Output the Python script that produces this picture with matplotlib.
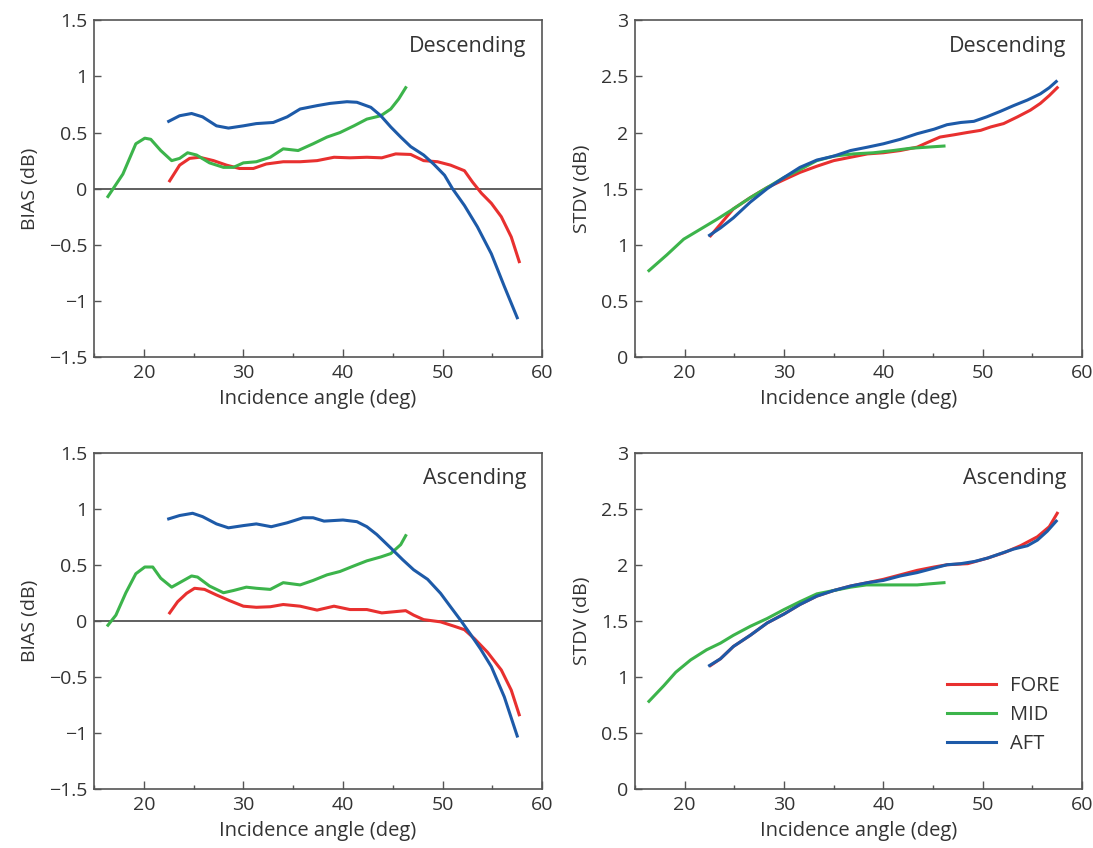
import matplotlib.pyplot as plt
from matplotlib.ticker import MultipleLocator, FuncFormatter

plt.rcParams['font.family'] = ['Open Sans', 'DejaVu Sans']

# Descending pass, BIAS (dB)
d_bias_fore_x = [22.6, 23.6, 24.6, 25.6, 27.0, 28.3, 29.6, 31.0, 32.3, 34.0, 35.7, 37.4, 39.1, 40.7,
                 42.4, 43.9, 45.3, 46.8, 48.1, 49.5, 50.8, 52.2, 53.0, 53.9, 54.9, 55.9, 56.9, 57.7]
d_bias_fore_y = [0.07, 0.21, 0.27, 0.28, 0.25, 0.21, 0.18, 0.18, 0.22, 0.24, 0.24, 0.25, 0.28, 0.275,
                 0.28, 0.275, 0.31, 0.305, 0.25, 0.24, 0.21, 0.16, 0.06, -0.04, -0.13, -0.25, -0.43, -0.65]
d_bias_mid_x = [16.4, 17.9, 19.2, 20.1, 20.7, 21.7, 22.8, 23.6, 24.4, 25.3, 26.6, 28.0, 29.0, 30.0,
                31.3, 32.7, 34.0, 35.5, 37.0, 38.4, 39.7, 41.1, 42.4, 43.8, 44.8, 45.6, 46.3]
d_bias_mid_y = [-0.07, 0.13, 0.40, 0.45, 0.44, 0.34, 0.25, 0.27, 0.32, 0.30, 0.23, 0.19, 0.19, 0.23,
                0.24, 0.28, 0.355, 0.34, 0.40, 0.46, 0.50, 0.56, 0.62, 0.65, 0.71, 0.80, 0.90]
d_bias_aft_x = [22.5, 23.6, 24.8, 25.9, 27.3, 28.5, 30.0, 31.3, 33.0, 34.4, 35.7, 37.4, 38.7, 40.4,
                41.4, 42.8, 43.8, 44.8, 45.8, 46.8, 48.1, 49.1, 50.2, 51.0, 52.2, 53.5, 54.9, 56.2, 57.5]
d_bias_aft_y = [0.60, 0.65, 0.67, 0.64, 0.56, 0.54, 0.56, 0.58, 0.59, 0.64, 0.71, 0.74, 0.76, 0.775,
                0.77, 0.725, 0.65, 0.55, 0.46, 0.375, 0.30, 0.22, 0.12, 0.0, -0.15, -0.34, -0.58, -0.87, -1.15]

# Descending pass, STDV (dB)
d_stdv_fore_x = [22.6, 24.9, 26.6, 28.3, 30.0, 31.6, 33.3, 35.0, 36.7, 38.4, 40.0, 41.7, 43.4, 44.4,
                 45.7, 47.1, 48.4, 49.8, 50.8, 52.1, 53.5, 54.8, 55.8, 56.7, 57.5]
d_stdv_fore_y = [1.08, 1.32, 1.42, 1.51, 1.58, 1.645, 1.70, 1.75, 1.78, 1.81, 1.82, 1.84, 1.87, 1.91,
                 1.96, 1.98, 2.00, 2.02, 2.05, 2.08, 2.14, 2.20, 2.26, 2.33, 2.40]
d_stdv_mid_x = [16.4, 18.2, 19.9, 21.6, 23.3, 24.9, 26.6, 28.3, 30.0, 31.6, 33.3, 35.0, 37.0, 39.0,
                41.0, 42.7, 44.4, 46.1]
d_stdv_mid_y = [0.77, 0.91, 1.05, 1.14, 1.23, 1.32, 1.42, 1.51, 1.60, 1.67, 1.75, 1.79, 1.81, 1.82,
                1.84, 1.86, 1.87, 1.88]
d_stdv_aft_x = [22.5, 23.6, 24.9, 26.6, 28.3, 30.0, 31.6, 33.3, 35.0, 36.7, 38.4, 40.0, 41.7, 43.4,
                45.1, 46.4, 47.8, 49.1, 50.4, 51.8, 53.1, 54.5, 55.8, 56.7, 57.4]
d_stdv_aft_y = [1.085, 1.15, 1.24, 1.38, 1.50, 1.60, 1.69, 1.755, 1.79, 1.84, 1.87, 1.90, 1.94, 1.99,
                2.03, 2.07, 2.09, 2.10, 2.14, 2.19, 2.24, 2.29, 2.345, 2.40, 2.455]

# Ascending pass, BIAS (dB)
a_bias_fore_x = [22.6, 23.4, 24.3, 25.1, 26.1, 27.3, 28.6, 30.0, 31.3, 32.7, 34.0, 35.7, 37.4, 39.1,
                 40.7, 42.4, 43.9, 45.1, 46.3, 47.1, 48.1, 49.8, 51.2, 52.2, 53.2, 54.5, 55.9, 56.9, 57.7]
a_bias_fore_y = [0.07, 0.17, 0.245, 0.29, 0.28, 0.23, 0.18, 0.13, 0.12, 0.125, 0.145, 0.13, 0.095, 0.13,
                 0.10, 0.10, 0.07, 0.08, 0.09, 0.05, 0.01, -0.01, -0.05, -0.08, -0.16, -0.28, -0.44, -0.62, -0.84]
a_bias_mid_x = [16.4, 17.2, 18.2, 19.2, 20.1, 20.9, 21.7, 22.8, 23.8, 24.8, 25.4, 26.6, 28.0, 29.0,
                30.3, 31.3, 32.7, 34.0, 35.7, 37.0, 38.4, 39.7, 41.1, 42.4, 43.8, 44.8, 45.8, 46.3]
a_bias_mid_y = [-0.04, 0.05, 0.25, 0.42, 0.48, 0.48, 0.38, 0.30, 0.35, 0.40, 0.39, 0.31, 0.25, 0.27,
                0.30, 0.29, 0.28, 0.34, 0.32, 0.36, 0.41, 0.44, 0.49, 0.535, 0.57, 0.60, 0.68, 0.76]
a_bias_aft_x = [22.5, 23.6, 24.9, 25.9, 27.3, 28.5, 30.0, 31.3, 32.8, 34.4, 36.0, 37.0, 38.1, 40.0,
                41.4, 42.4, 43.4, 44.8, 46.0, 47.1, 48.5, 49.8, 50.8, 51.8, 52.8, 53.8, 54.9, 56.2, 57.5]
a_bias_aft_y = [0.91, 0.94, 0.96, 0.93, 0.865, 0.83, 0.85, 0.865, 0.84, 0.875, 0.92, 0.92, 0.89, 0.90,
                0.885, 0.84, 0.77, 0.65, 0.545, 0.455, 0.37, 0.245, 0.125, 0.006, -0.12, -0.25, -0.41, -0.68, -1.03]

# Ascending pass, STDV (dB)
a_stdv_fore_x = [22.6, 23.6, 24.9, 26.6, 28.3, 30.0, 31.6, 33.3, 35.0, 36.7, 38.4, 40.0, 41.7, 43.4,
                 45.1, 46.4, 48.5, 50.5, 52.2, 53.8, 55.5, 56.7, 57.5]
a_stdv_fore_y = [1.10, 1.16, 1.27, 1.37, 1.48, 1.56, 1.645, 1.72, 1.77, 1.81, 1.84, 1.87, 1.91, 1.95,
                 1.98, 2.00, 2.01, 2.06, 2.11, 2.17, 2.25, 2.34, 2.46]
a_stdv_mid_x = [16.4, 17.9, 19.1, 20.6, 22.2, 23.6, 24.9, 26.6, 28.3, 30.0, 31.6, 33.3, 35.0, 36.7,
                38.3, 40.0, 41.7, 43.4, 44.7, 46.1]
a_stdv_mid_y = [0.78, 0.92, 1.04, 1.15, 1.24, 1.30, 1.37, 1.45, 1.52, 1.60, 1.67, 1.74, 1.77, 1.80,
                1.82, 1.82, 1.82, 1.82, 1.83, 1.84]
a_stdv_aft_x = [22.5, 23.6, 24.9, 26.6, 28.3, 30.0, 31.6, 33.3, 35.0, 36.7, 38.4, 40.0, 41.7, 43.4,
                45.1, 46.4, 47.8, 49.2, 50.5, 51.8, 53.1, 54.5, 55.5, 56.5, 57.4]
a_stdv_aft_y = [1.10, 1.16, 1.27, 1.37, 1.48, 1.56, 1.645, 1.72, 1.77, 1.81, 1.84, 1.86, 1.90, 1.93,
                1.97, 2.00, 2.01, 2.03, 2.06, 2.10, 2.14, 2.17, 2.22, 2.30, 2.39]

FORE = '#e8302f'
MID = '#3cb44b'
AFT = '#1d5aa8'
FRAME = '#555555'
TEXT = '#333333'

fig = plt.figure(figsize=(10.93, 8.48), dpi=100)
ax_tl = fig.add_axes([0.086, 0.579, 0.410, 0.397])
ax_tr = fig.add_axes([0.581, 0.579, 0.409, 0.397])
ax_bl = fig.add_axes([0.086, 0.070, 0.410, 0.396])
ax_br = fig.add_axes([0.581, 0.070, 0.409, 0.396])

# "0.5", "1", "-1.5" style labels with a proper minus sign
short_fmt = FuncFormatter(lambda v, pos: ('%g' % v).replace('-', '\u2212'))


def style_axes(ax, ylabel, ylim, pass_name, zero_line):
    ax.set_xlim(15, 60)
    ax.set_ylim(*ylim)
    ax.xaxis.set_major_locator(MultipleLocator(10))
    ax.xaxis.set_minor_locator(MultipleLocator(5))
    ax.yaxis.set_major_locator(MultipleLocator(0.5))
    ax.yaxis.set_major_formatter(short_fmt)
    ax.tick_params(axis='x', which='major', direction='in', length=6, width=1, color=FRAME,
                   labelsize=14, pad=5, top=False, labelcolor=TEXT)
    ax.tick_params(axis='x', which='minor', direction='in', length=3, width=1, color=FRAME, top=False)
    ax.tick_params(axis='y', which='major', direction='in', length=5, width=1, color=FRAME,
                   labelsize=14, pad=5, right=False, labelcolor=TEXT)
    for s in ax.spines.values():
        s.set_color(FRAME)
        s.set_linewidth(1.2)
    ax.set_xlabel('Incidence angle (deg)', fontsize=14.5, labelpad=5, color=TEXT)
    ax.set_ylabel(ylabel, fontsize=14, labelpad=7, color=TEXT)
    ax.text(0.965, 0.955, pass_name, transform=ax.transAxes, ha='right', va='top',
            fontsize=15.5, color=TEXT)
    if zero_line:
        ax.axhline(0, color='#444444', lw=1.2, zorder=1)


lw = 2.2
ax_tl.plot(d_bias_fore_x, d_bias_fore_y, color=FORE, lw=lw)
ax_tl.plot(d_bias_mid_x, d_bias_mid_y, color=MID, lw=lw)
ax_tl.plot(d_bias_aft_x, d_bias_aft_y, color=AFT, lw=lw)
style_axes(ax_tl, 'BIAS (dB)', (-1.5, 1.5), 'Descending', True)

ax_tr.plot(d_stdv_fore_x, d_stdv_fore_y, color=FORE, lw=lw)
ax_tr.plot(d_stdv_mid_x, d_stdv_mid_y, color=MID, lw=lw)
ax_tr.plot(d_stdv_aft_x, d_stdv_aft_y, color=AFT, lw=lw)
style_axes(ax_tr, 'STDV (dB)', (0, 3), 'Descending', False)

ax_bl.plot(a_bias_fore_x, a_bias_fore_y, color=FORE, lw=lw)
ax_bl.plot(a_bias_mid_x, a_bias_mid_y, color=MID, lw=lw)
ax_bl.plot(a_bias_aft_x, a_bias_aft_y, color=AFT, lw=lw)
style_axes(ax_bl, 'BIAS (dB)', (-1.5, 1.5), 'Ascending', True)

ax_br.plot(a_stdv_fore_x, a_stdv_fore_y, color=FORE, lw=lw, label='FORE')
ax_br.plot(a_stdv_mid_x, a_stdv_mid_y, color=MID, lw=lw, label='MID')
ax_br.plot(a_stdv_aft_x, a_stdv_aft_y, color=AFT, lw=lw, label='AFT')
style_axes(ax_br, 'STDV (dB)', (0, 3), 'Ascending', False)
ax_br.legend(loc='lower right', frameon=False, fontsize=14.5, handlelength=2.4,
             handletextpad=0.7, labelspacing=0.45, bbox_to_anchor=(0.99, 0.05),
             labelcolor=TEXT)

fig.savefig('out.png', dpi=100)
